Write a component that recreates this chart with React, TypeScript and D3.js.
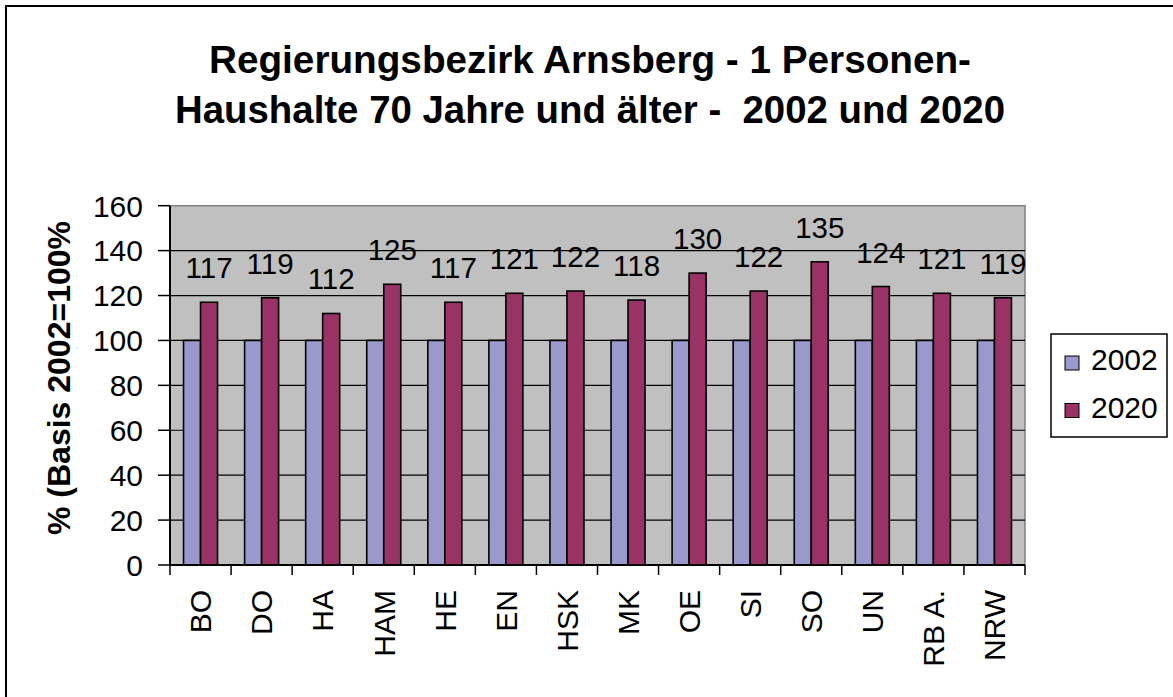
import React from "react";
import * as d3 from "d3";

const categories = ["BO", "DO", "HA", "HAM", "HE", "EN", "HSK", "MK", "OE", "SI", "SO", "UN", "RB A.", "NRW"];
const values2002 = [100, 100, 100, 100, 100, 100, 100, 100, 100, 100, 100, 100, 100, 100];
const values2020 = [117, 119, 112, 125, 117, 121, 122, 118, 130, 122, 135, 124, 121, 119];
const yTicks = [0, 20, 40, 60, 80, 100, 120, 140, 160];
const seriesNames = ["2002", "2020"];
const titleLines = ["Regierungsbezirk Arnsberg - 1 Personen-", "Haushalte 70 Jahre und älter -  2002 und 2020"];
const yTitle = "% (Basis 2002=100%";

const W = 1173;
const H = 697;
const FONT = "'Liberation Sans', Arial, Helvetica, sans-serif";
const COL2002 = "#9999CC";
const COL2020 = "#993366";

export default function App() {
  const left = 170;
  const right = 1025;
  const top = 205.7;
  const bottom = 565;

  const x = d3.scaleBand<string>().domain(categories).range([left, right]).padding(0);
  const y = d3.scaleLinear().domain([0, 160]).range([bottom, top]);
  const bw = 17;

  return (
    <div style={{ position: "fixed", left: 0, top: 0, width: W, height: H, background: "#fff" }}>
      <svg width={W} height={H} style={{ display: "block" }} fontFamily={FONT}>
        <rect x={0} y={0} width={W} height={H} fill="#fff" />
        <rect x={6} y={6} width={W + 20} height={H + 20} fill="none" stroke="#000" strokeWidth={2} />

        {/* title */}
        <text x={590} y={73} textAnchor="middle" fontSize={38} fontWeight="bold" textLength={762} lengthAdjust="spacingAndGlyphs" style={{ whiteSpace: "pre" }}>
          {titleLines[0]}
        </text>
        <text x={590} y={123} textAnchor="middle" fontSize={38} fontWeight="bold" textLength={830} lengthAdjust="spacingAndGlyphs" style={{ whiteSpace: "pre" }}>
          {titleLines[1]}
        </text>

        {/* plot area */}
        <rect x={left} y={top} width={right - left} height={bottom - top} fill="#C0C0C0" stroke="#808080" strokeWidth={1.5} />
        {yTicks.filter((t) => t > 0 && t < 160).map((t) => (
          <line key={"g" + t} x1={left} x2={right} y1={y(t)} y2={y(t)} stroke="#000" strokeWidth={1.2} />
        ))}

        {/* bars */}
        {categories.map((c, i) => {
          const cx = (x(c) as number) + x.bandwidth() / 2;
          return (
            <g key={c}>
              <rect x={cx - bw} y={y(values2002[i])} width={bw} height={y(0) - y(values2002[i])} fill={COL2002} stroke="#000" strokeWidth={1.6} />
              <rect x={cx} y={y(values2020[i])} width={bw} height={y(0) - y(values2020[i])} fill={COL2020} stroke="#000" strokeWidth={1.6} />
              <text x={cx + bw / 2} y={y(values2020[i]) - 24} textAnchor="middle" fontSize={29.5}>
                {values2020[i]}
              </text>
            </g>
          );
        })}

        {/* axes */}
        <line x1={left} x2={left} y1={top} y2={bottom} stroke="#000" strokeWidth={2} />
        <line x1={left} x2={right} y1={bottom} y2={bottom} stroke="#000" strokeWidth={2} />
        {yTicks.map((t) => (
          <g key={"yt" + t}>
            <line x1={158} x2={left} y1={y(t)} y2={y(t)} stroke="#000" strokeWidth={1.5} />
            <text x={143} y={y(t)} dy="0.36em" textAnchor="end" fontSize={30}>
              {t}
            </text>
          </g>
        ))}
        {d3.range(categories.length + 1).map((k) => {
          const xx = left + k * x.bandwidth();
          return <line key={"xt" + k} x1={xx} x2={xx} y1={bottom} y2={bottom + 10} stroke="#000" strokeWidth={1.5} />;
        })}
        {categories.map((c) => {
          const cx = (x(c) as number) + x.bandwidth() / 2;
          return (
            <text key={"xl" + c} transform={`translate(${cx},590) rotate(-90)`} textAnchor="end" dy="0.36em" fontSize={30}>
              {c}
            </text>
          );
        })}

        {/* y title */}
        <text transform={`translate(70,378) rotate(-90)`} textAnchor="middle" fontSize={32} fontWeight="bold">
          {yTitle}
        </text>

        {/* legend */}
        <rect x={1051} y={334} width={116} height={103} fill="#fff" stroke="#000" strokeWidth={1.5} />
        {seriesNames.map((s, i) => (
          <g key={s}>
            <rect x={1065} y={356 + i * 47.5} width={14} height={14} fill={i === 0 ? COL2002 : COL2020} stroke="#000" strokeWidth={1} />
            <text x={1091} y={370 + i * 47.5} fontSize={30}>
              {s}
            </text>
          </g>
        ))}
      </svg>
    </div>
  );
}
